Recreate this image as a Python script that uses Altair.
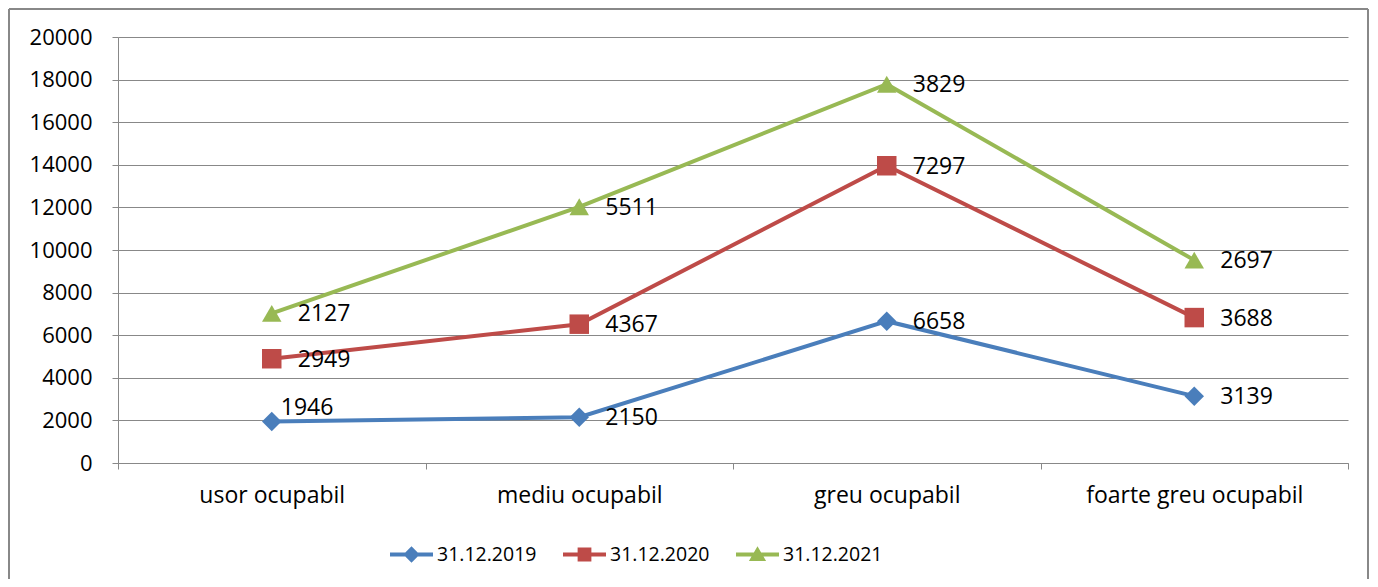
import altair as alt
import pandas as pd

categories = ["usor ocupabil", "mediu ocupabil", "greu ocupabil", "foarte greu ocupabil"]
series = ["31.12.2019", "31.12.2020", "31.12.2021"]
v2019 = [1946, 2150, 6658, 3139]
v2020 = [2949, 4367, 7297, 3688]
v2021 = [2127, 5511, 3829, 2697]
y_ticks = [0, 2000, 4000, 6000, 8000, 10000, 12000, 14000, 16000, 18000, 20000]

colors = ["#4a7ebb", "#be4b48", "#98b954"]
FONT = "Open Sans"
GRAY = "#888888"

rows = []
cum = [0] * len(categories)
for s, vals in zip(series, [v2019, v2020, v2021]):
    for i, (c, v) in enumerate(zip(categories, vals)):
        cum[i] += v
        rows.append({"series": s, "cat": c, "idx": i, "value": v, "total": cum[i]})
df = pd.DataFrame(rows)

x = alt.X("cat:N", sort=categories, scale=alt.Scale(paddingInner=0, paddingOuter=0),
          axis=alt.Axis(title=None, tickBand="extent", labelAngle=0, labelFont=FONT,
                        labelFontSize=23, labelColor="black", labelPadding=15,
                        labelLimit=0, tickSize=6, tickColor=GRAY, domainColor=GRAY,
                        grid=False))
y = alt.Y("total:Q", scale=alt.Scale(domain=[0, 20000], nice=False),
          axis=alt.Axis(title=None, values=y_ticks, format="d", labelFont=FONT,
                        labelFontSize=22, labelColor="black", labelPadding=20,
                        tickSize=6, tickColor=GRAY, domainColor=GRAY,
                        gridColor=GRAY, grid=True))
color = alt.Color("series:N", scale=alt.Scale(domain=series, range=colors), legend=None)

base = alt.Chart(df)
one = alt.Chart(pd.DataFrame({"a": [0]}))

frame_top = one.mark_rule(stroke=GRAY, strokeWidth=2, clip=False).encode(
    x=alt.value(-109), x2=alt.value(1250), y=alt.value(-28))
frame_left = one.mark_rule(stroke=GRAY, strokeWidth=2, clip=False).encode(
    x=alt.value(-109), y=alt.value(-28), y2=alt.value(600))
frame_right = one.mark_rule(stroke=GRAY, strokeWidth=2, clip=False).encode(
    x=alt.value(1250), y=alt.value(-28), y2=alt.value(600))

lines = base.mark_line(strokeWidth=4).encode(x=x, y=y, color=color, order="idx:Q")

points = base.mark_point(filled=True, opacity=1, size=380).encode(
    x=x, y=y, color=color,
    shape=alt.Shape("series:N", scale=alt.Scale(domain=series,
                    range=["diamond", "square", "triangle-up"]), legend=None),
)

first = "datum.series == '31.12.2019' && datum.idx == 0"
labels = base.transform_filter("!(" + first + ")").mark_text(
    align="left", baseline="middle", dx=26, dy=1,
    font=FONT, fontSize=23, color="black").encode(x=x, y=y, text="value:Q")
label_first = base.transform_filter(first).mark_text(
    align="left", baseline="middle", dx=9, dy=-14,
    font=FONT, fontSize=23, color="black").encode(x=x, y=y, text="value:Q")

paths = [
    "M-1,-0.09H1V0.09H-1Z M0,-0.38L0.38,0L0,0.38L-0.38,0Z",
    "M-1,-0.09H1V0.09H-1Z M-0.32,-0.32H0.32V0.32H-0.32Z",
    "M-1,-0.09H1V0.09H-1Z M0,-0.38L0.4,0.3H-0.4Z",
]
leg = dict(title=None, orient="none", legendX=272, legendY=496,
           direction="horizontal", labelFont=FONT, labelFontSize=19.5,
           labelColor="black", symbolSize=1849, symbolStrokeWidth=0,
           labelOffset=4, columnPadding=26, padding=0)
legend_layer = base.transform_filter("false").mark_point(filled=True, opacity=1).encode(
    x=x, y=y,
    color=alt.Color("series:N", scale=alt.Scale(domain=series, range=colors),
                    legend=alt.Legend(**leg)),
    shape=alt.Shape("series:N", scale=alt.Scale(domain=series, range=paths),
                    legend=alt.Legend(**leg)),
)

chart = alt.layer(lines, points, labels, label_first, legend_layer,
                  frame_top, frame_left, frame_right).resolve_scale(
    shape="independent", color="independent"
).properties(
    width=1230, height=426,
    padding={"left": 110, "top": 29, "right": 22, "bottom": 116},
    autosize=alt.AutoSizeParams(type="none"),
).configure_view(stroke=None)

chart.save("out.html", embed_options={"renderer": "svg", "actions": False})
